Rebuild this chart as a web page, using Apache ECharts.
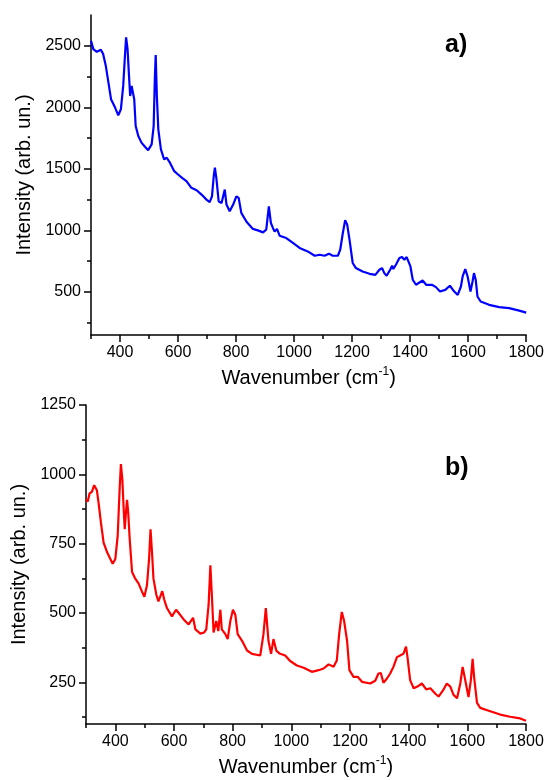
<!DOCTYPE html>
<html lang="en">
<head>
    <meta charset="utf-8">
    <title>Spectra</title>
    <script src="https://cdn.jsdelivr.net/npm/echarts@6/dist/echarts.min.js"></script>
    <style>
        html, body { margin: 0; padding: 0; background: #fff; }
    </style>
</head>
<body>
<div id="main" style="width: 547px;height:780px;"></div>
<script type="text/javascript">
    // spectrum a) (blue)
    var waveA = [300, 308, 320, 334, 342, 351, 360, 369, 383, 394, 403, 411, 417, 421, 426, 431, 435, 440, 444, 449,
        454, 463, 474, 486, 497, 509, 516, 520, 523, 527, 532, 541, 552, 561, 572, 587, 600, 614, 629, 646,
        664, 681, 698, 709, 717, 723, 727, 732, 740, 750, 756, 761, 767, 778, 790, 801, 809, 818, 836, 858,
        875, 893, 904, 913, 920, 927, 933, 941, 950, 973, 996, 1019, 1047, 1071, 1088, 1105, 1120, 1133, 1151, 1159,
        1168, 1176, 1183, 1191, 1202, 1213, 1236, 1260, 1280, 1294, 1303, 1311, 1319, 1331, 1338, 1342, 1351, 1363, 1372, 1380,
        1388, 1394, 1401, 1409, 1420, 1443, 1455, 1475, 1489, 1503, 1521, 1537, 1552, 1564, 1575, 1581, 1590, 1598, 1608, 1615,
        1620, 1626, 1632, 1643, 1672, 1707, 1741, 1776, 1800];
    var intensityA = [2541, 2473, 2451, 2467, 2432, 2337, 2202, 2066, 1998, 1935, 1984, 2174, 2419, 2568, 2473, 2255, 2092, 2174, 2188, 2066,
        1848, 1767, 1713, 1680, 1652, 1699, 1848, 2229, 2424, 2092, 1821, 1658, 1577, 1590, 1550, 1481, 1454, 1427, 1400, 1346,
        1326, 1291, 1250, 1229, 1277, 1440, 1509, 1427, 1237, 1223, 1230, 1332, 1210, 1155, 1210, 1277, 1264, 1142, 1070, 1012,
        1000, 984, 1006, 1196, 1060, 1020, 990, 1012, 957, 938, 898, 857, 829, 794, 802, 794, 811, 794, 794, 843,
        979, 1082, 1047, 925, 735, 694, 666, 647, 639, 680, 694, 653, 631, 680, 713, 686, 721, 775, 783, 762,
        783, 794, 707, 599, 558, 593, 558, 558, 539, 503, 517, 550, 503, 476, 544, 626, 686, 626, 503, 585,
        653, 599, 463, 422, 395, 376, 368, 348, 332];

    // spectrum b) (red)
    var waveB = [300, 306, 312, 320, 328, 337, 343, 351, 360, 372, 383, 391, 400, 408, 415, 419, 424, 428, 432, 436,
        440, 444, 449, 457, 468, 479, 491, 499, 508, 515, 520, 525, 530, 540, 547, 553, 560, 567, 576, 593,
        607, 616, 633, 650, 665, 673, 690, 703, 710, 718, 724, 729, 735, 744, 751, 758, 763, 775, 783, 792,
        801, 809, 817, 832, 849, 866, 894, 905, 913, 922, 931, 939, 949, 962, 979, 996, 1019, 1042, 1070, 1093,
        1110, 1127, 1144, 1155, 1163, 1172, 1180, 1190, 1198, 1212, 1226, 1241, 1269, 1286, 1297, 1305, 1314, 1326, 1337, 1348,
        1360, 1374, 1382, 1391, 1396, 1405, 1417, 1430, 1445, 1460, 1474, 1491, 1502, 1517, 1530, 1542, 1553, 1565, 1576, 1584,
        1593, 1604, 1612, 1618, 1623, 1633, 1644, 1678, 1712, 1746, 1780, 1800];
    var intensityB = [910, 902, 931, 937, 961, 943, 896, 825, 754, 719, 695, 678, 695, 778, 955, 1037, 979, 884, 802, 860,
        908, 860, 766, 648, 624, 607, 577, 559, 601, 695, 802, 719, 624, 565, 542, 559, 579, 547, 518, 488,
        512, 500, 477, 459, 483, 441, 426, 430, 441, 530, 672, 565, 430, 471, 435, 512, 441, 424, 406, 471,
        512, 494, 424, 400, 365, 353, 347, 424, 518, 400, 353, 406, 364, 353, 347, 327, 311, 303, 288, 294,
        300, 315, 306, 329, 424, 504, 471, 400, 294, 270, 270, 252, 246, 256, 282, 284, 249, 264, 282, 306,
        341, 349, 353, 379, 341, 258, 229, 235, 246, 225, 229, 209, 199, 221, 246, 235, 205, 193, 246, 306,
        258, 197, 258, 335, 270, 176, 158, 146, 134, 126, 120, 112];

    // tick positions
    var xMajor = [400, 600, 800, 1000, 1200, 1400, 1600, 1800];
    var xMinor = [300, 500, 700, 900, 1100, 1300, 1500, 1700];
    var yMajorA = [500, 1000, 1500, 2000, 2500];
    var yMinorA = [250, 750, 1250, 1750, 2250];
    var yMajorB = [250, 500, 750, 1000, 1250];
    var yMinorB = [125, 375, 625, 875, 1125];

    function zip(xs, ys) {
        var out = [];
        for (var i = 0; i < xs.length; i++) {
            out.push([xs[i], ys[i]]);
        }
        return out;
    }

    function plain(v) {
        return String(v);
    }

    var font = "'Liberation Sans', Arial, sans-serif";
    var axisLine = {show: true, lineStyle: {color: '#000', width: 1.5}};

    function xAxisPair(grid) {
        return [
            {
                type: 'value', gridIndex: grid, min: 300, max: 1800,
                axisLine: axisLine,
                axisTick: {show: true, length: 7, customValues: xMajor, lineStyle: {color: '#000', width: 1.5}},
                axisLabel: {show: true, customValues: xMajor, formatter: plain, margin: 10, color: '#000', fontSize: 16, fontFamily: font},
                splitLine: {show: false},
                name: 'Wavenumber (cm{sup|-1})',
                nameLocation: 'middle',
                nameGap: 31,
                nameTextStyle: {
                    color: '#000', fontSize: 20, fontFamily: font, lineHeight: 24, verticalAlign: 'top',
                    rich: {sup: {fontSize: 12, fontFamily: font, color: '#000', lineHeight: 24, verticalAlign: 'top', padding: [0, 0, 10, 0]}}
                }
            },
            {
                type: 'value', gridIndex: grid, min: 300, max: 1800, position: 'bottom',
                axisLine: {show: false},
                axisTick: {show: true, length: 4, customValues: xMinor, lineStyle: {color: '#000', width: 1.5}},
                axisLabel: {show: false},
                splitLine: {show: false}
            }
        ];
    }

    function yAxisPair(grid, min, max, major, minor, gap) {
        return [
            {
                type: 'value', gridIndex: grid, min: min, max: max,
                axisLine: axisLine,
                axisTick: {show: true, length: 7, customValues: major, lineStyle: {color: '#000', width: 1.5}},
                axisLabel: {show: true, customValues: major, formatter: plain, margin: 10, color: '#000', fontSize: 16, fontFamily: font},
                splitLine: {show: false},
                name: 'Intensity (arb. un.)',
                nameLocation: 'middle',
                nameGap: gap,
                nameTextStyle: {color: '#000', fontSize: 20, fontFamily: font}
            },
            {
                type: 'value', gridIndex: grid, min: min, max: max, position: 'left',
                axisLine: {show: false},
                axisTick: {show: true, length: 4, customValues: minor, lineStyle: {color: '#000', width: 1.5}},
                axisLabel: {show: false},
                splitLine: {show: false}
            }
        ];
    }

    var chart = echarts.init(document.getElementById('main'));

    var option = {
        animation: false,
        backgroundColor: '#fff',
        grid: [
            {left: 91, top: 15, width: 436, height: 320},
            {left: 86, top: 405, width: 440, height: 327}
        ],
        xAxis: xAxisPair(0).concat(xAxisPair(1)),
        yAxis: yAxisPair(0, 150, 2750, yMajorA, yMinorA, 53).concat(yAxisPair(1, 100, 1250, yMajorB, yMinorB, 48)),
        graphic: [
            {type: 'text', left: 445, top: 33, style: {text: 'a)', fontSize: 25, fontWeight: 'bold', fontFamily: font, fill: '#000'}},
            {type: 'text', left: 445, top: 456, style: {text: 'b)', fontSize: 25, fontWeight: 'bold', fontFamily: font, fill: '#000'}}
        ],
        series: [
            {
                type: 'line', xAxisIndex: 0, yAxisIndex: 0,
                data: zip(waveA, intensityA),
                showSymbol: false,
                lineStyle: {color: '#0000ff', width: 2.2},
                itemStyle: {color: '#0000ff'}
            },
            {
                type: 'line', xAxisIndex: 2, yAxisIndex: 2,
                data: zip(waveB, intensityB),
                showSymbol: false,
                lineStyle: {color: '#ff0000', width: 2.2},
                itemStyle: {color: '#ff0000'}
            }
        ]
    };

    chart.setOption(option);
</script>
</body>
</html>
